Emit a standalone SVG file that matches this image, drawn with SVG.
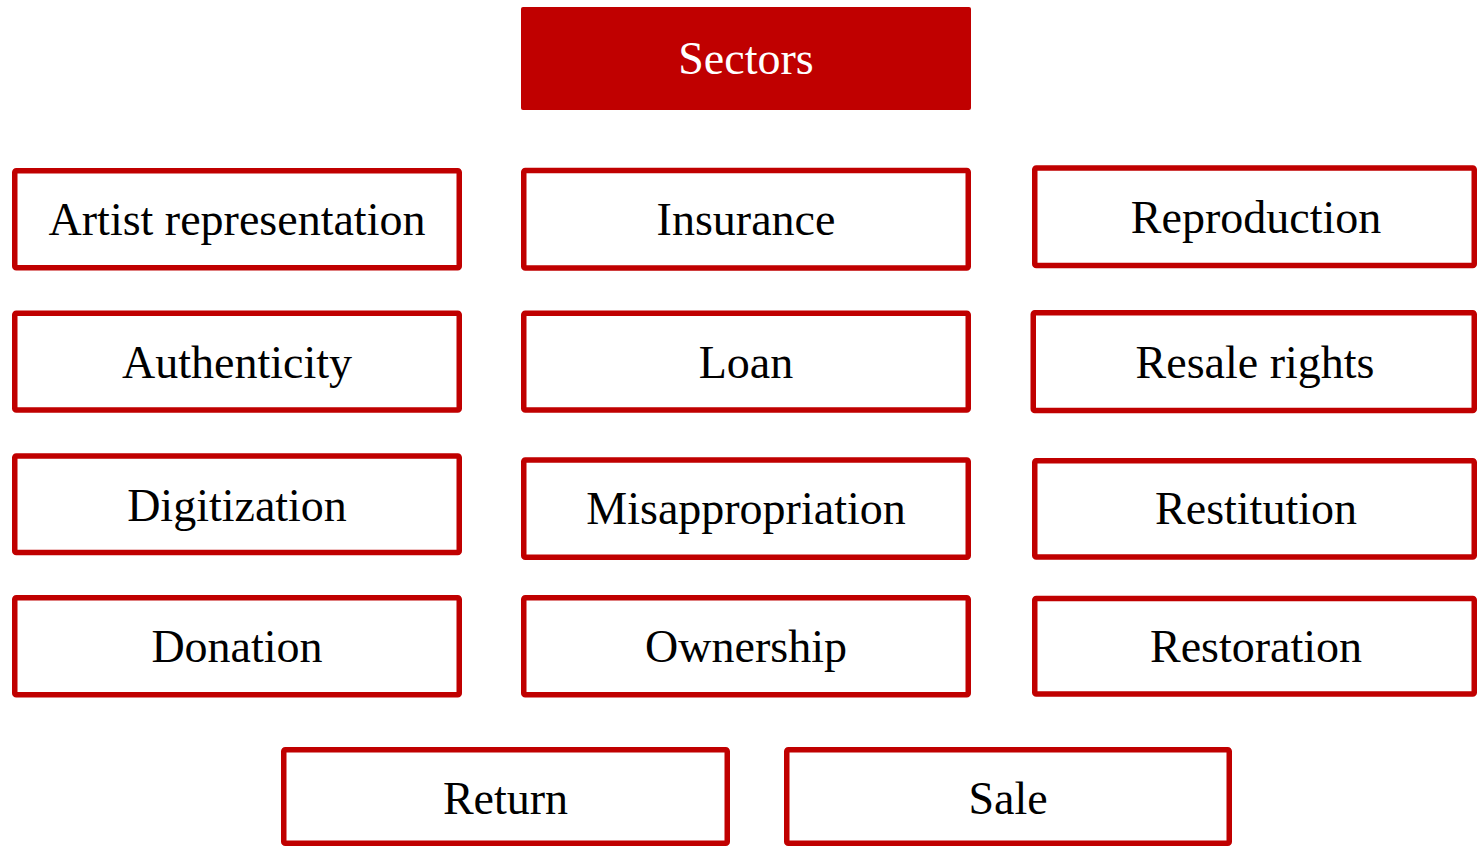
<svg xmlns="http://www.w3.org/2000/svg" width="1478" height="846" viewBox="0 0 1478 846">
  <style>
    .box { fill: #ffffff; stroke: #C00000; stroke-width: 5.5; }
    .head { fill: #C00000; }
    .lbl { font-family: "Liberation Serif", "Times New Roman", serif; font-size: 46px; fill: #000000; text-anchor: middle; }
    .hlbl { font-family: "Liberation Serif", "Times New Roman", serif; font-size: 46px; fill: #ffffff; text-anchor: middle; }
  </style>
  <rect width="1478" height="846" fill="#ffffff"/>

  <!-- heading -->
  <g id="sectors">
    <rect class="head" x="521" y="7" width="450" height="103" rx="2"/>
    <text class="hlbl" x="746" y="74">Sectors</text>
  </g>

  <!-- first column -->
  <g id="artist-representation">
    <rect class="box" x="14.75" y="170.75" width="444.5" height="97" rx="1.5"/>
    <text class="lbl" x="237" y="235">Artist representation</text>
  </g>
  <g id="authenticity">
    <rect class="box" x="14.75" y="313.25" width="444.5" height="96.75" rx="1.5"/>
    <text class="lbl" x="237" y="377.5">Authenticity</text>
  </g>
  <g id="digitization">
    <rect class="box" x="14.75" y="456" width="444.5" height="96.5" rx="1.5"/>
    <text class="lbl" x="237" y="520.5">Digitization</text>
  </g>
  <g id="donation">
    <rect class="box" x="14.75" y="597.75" width="444.5" height="97" rx="1.5"/>
    <text class="lbl" x="237" y="662">Donation</text>
  </g>

  <!-- second column -->
  <g id="insurance">
    <rect class="box" x="523.75" y="170.5" width="444.5" height="97.5" rx="1.5"/>
    <text class="lbl" x="746" y="235">Insurance</text>
  </g>
  <g id="loan">
    <rect class="box" x="523.75" y="313.25" width="444.5" height="96.75" rx="1.5"/>
    <text class="lbl" x="746" y="377.5">Loan</text>
  </g>
  <g id="misappropriation">
    <rect class="box" x="523.75" y="460" width="444.5" height="97.25" rx="1.5"/>
    <text class="lbl" x="746" y="524">Misappropriation</text>
  </g>
  <g id="ownership">
    <rect class="box" x="523.75" y="597.75" width="444.5" height="97" rx="1.5"/>
    <text class="lbl" x="746" y="662">Ownership</text>
  </g>

  <!-- third column -->
  <g id="reproduction">
    <rect class="box" x="1034.75" y="168" width="439.5" height="97.5" rx="1.5"/>
    <text class="lbl" x="1256" y="233">Reproduction</text>
  </g>
  <g id="resale-rights">
    <rect class="box" x="1033.25" y="312.75" width="441" height="97.75" rx="1.5"/>
    <text class="lbl" x="1255" y="377.5">Resale rights</text>
  </g>
  <g id="restitution">
    <rect class="box" x="1034.75" y="460.75" width="439.5" height="96.25" rx="1.5"/>
    <text class="lbl" x="1256" y="524">Restitution</text>
  </g>
  <g id="restoration">
    <rect class="box" x="1034.75" y="598.5" width="439.5" height="95.5" rx="1.5"/>
    <text class="lbl" x="1256" y="662">Restoration</text>
  </g>

  <!-- bottom row -->
  <g id="return">
    <rect class="box" x="283.75" y="749.75" width="443.5" height="93.5" rx="1.5"/>
    <text class="lbl" x="505.5" y="814">Return</text>
  </g>
  <g id="sale">
    <rect class="box" x="786.75" y="749.75" width="442.5" height="93.5" rx="1.5"/>
    <text class="lbl" x="1008" y="814">Sale</text>
  </g>

  <!-- no connectors in this layout -->
  <g id="connectors"/>
</svg>
